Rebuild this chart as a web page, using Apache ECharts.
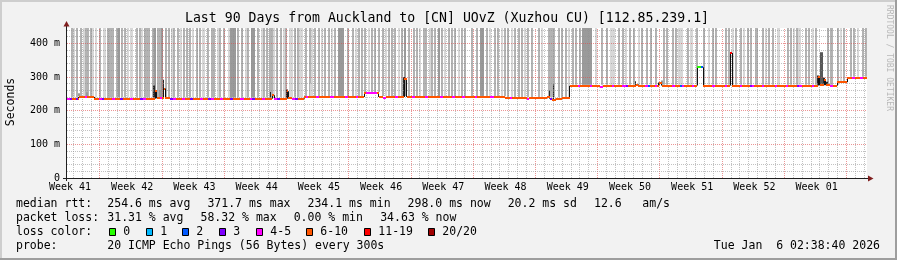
<!DOCTYPE html>
<html><head><meta charset="utf-8">
<script src="https://cdn.jsdelivr.net/npm/echarts@6/dist/echarts.min.js"></script>
<style>html,body{margin:0;padding:0;background:#f2f2f2}#c{width:897px;height:260px}</style>
</head><body><div id="c"></div><script>
// ---------- DATA (time axis in hours since graph start, 90 days = 2160 h; values in ms) ----------
const endHour = 2160;
const yMax = 446;
const yTicks = [0, 100, 200, 300, 400];
const gridMinorY = [20,40,60,80,120,140,160,180,220,240,260,280,320,340,360,380,420,440];
const gridMajorY = [100,200,300,400];
const weekLineHours = [89,257,425,593,761,929,1097,1265,1433,1601,1769,1937,2105];
const firstDayLine = 17;
const weekLabels = ['Week 41','Week 42','Week 43','Week 44','Week 45','Week 46','Week 47','Week 48','Week 49','Week 50','Week 51','Week 52','Week 01'];
const weekLabelHours = [8,176,344,512,680,848,1016,1184,1352,1520,1688,1856,2024];

// loss classes: 0,1,2,3,4-5,6-10,11-19,20/20
const lossLabels = ['0','1','2','3','4-5','6-10','11-19','20/20'];
const lossColors = ['#26ff00','#00b8ff','#0059ff','#7e00ff','#ff00ff','#ff5500','#ff0000','#a00000'];

// median rtt runs: [startHour, ms, lossClass]
const medianRuns = [
[0,235,4],[7,235,3],[13,235,5],[24,235,3],[30,235,5],[32,241,5],[49,241,4],[54,241,5],[73,236,5],[86,236,4],[95,236,3],[100,236,5],[122,236,4],[130,236,5],[143,236,3],[151,236,5],[170,236,4],[178,236,5],[197,236,3],[205,236,4],[213,236,5],[238,258,5],[242,237,5],[251,237,4],[256,237,5],[261,266,5],[265,238,5],[278,236,3],[286,236,4],[294,236,5],[311,236,4],[319,236,5],[332,236,3],[340,236,5],[359,236,4],[367,236,5],[381,236,3],[389,236,4],[397,236,5],[413,236,4],[421,236,5],[440,236,3],[448,236,5],[467,236,4],[478,236,5],[494,236,4],[500,236,3],[508,236,5],[527,236,4],[535,236,5],[554,246,5],[559,236,4],[567,236,3],[575,236,5],[594,258,5],[598,237,5],[608,236,4],[616,236,3],[624,236,5],
[640,241,5],[645,241,4],[651,241,5],[672,241,4],[680,241,5],[710,241,4],[721,241,5],[751,241,4],[759,241,5],[780,241,4],[786,241,5],[802,253,5],[807,253,4],[837,253,5],[842,241,5],[853,238,4],[861,241,5],[886,241,4],[894,241,5],[910,295,5],[917,241,5],[932,241,4],[940,241,5],[967,241,4],[975,241,5],[1007,241,4],[1015,241,5],[1040,241,4],[1048,241,5],[1067,241,4],[1075,241,5],[1102,241,4],[1107,241,5],[1142,241,4],[1153,241,5],
[1183,237,5],[1196,237,4],[1202,237,5],[1242,235,4],[1247,237,5],[1296,240,5],[1304,236,3],[1310,231,5],[1320,236,5],[1337,237,5],
[1358,274,5],[1380,274,4],[1386,274,5],[1412,274,4],[1418,274,5],[1439,270,4],[1447,274,5],[1471,274,4],[1477,274,5],[1499,274,4],[1509,274,3],[1515,274,5],[1536,278,5],[1542,274,5],[1561,274,4],[1569,274,2],[1574,274,5],[1588,274,4],[1593,274,5],[1598,281,5],[1606,275,5],[1634,275,4],[1642,275,5],[1655,275,2],[1661,275,4],[1666,275,5],[1688,275,4],[1693,275,5],[1701,329,0],[1713,329,2],[1718,275,5],[1742,275,4],[1750,275,5],[1777,275,4],[1782,275,5],[1791,371.7,6],[1796,275,5],[1817,275,4],[1822,275,5],[1844,275,3],[1849,275,4],[1855,275,5],[1877,275,4],[1882,275,5],[1912,275,4],[1917,275,5],[1941,275,4],[1947,275,5],[1971,275,3],[1976,275,4],[1985,275,5],[2012,275,4],[2017,275,5],[2028,300,5],[2032,276,5],[2044,290,5],[2048,276,5],[2060,275,4],[2068,275,5],[2079,285,5],[2106,298,5],[2119,298,4],[2128,298,5],[2141,298,4],[2150,298,5]
];

// smoke (ping spread): [fromHour, toHour, lowMs, highMs, densityLevel]
const smoke = [
[10,14,239,500,2],[17,20,239,500,1],[25,29,239,500,2],[35,39,244,500,2],[44,47,244,500,1],[49,52,244,500,2],[55,58,244,500,2],[61,64,244,500,2],[68,71,239,500,1],[75,82,239,500,1],[86,89,239,500,2],[97,106,239,500,1],[109,127,239,500,2],[131,134,239,500,2],[139,142,239,500,3],[147,150,239,500,2],[154,157,239,500,2],[161,164,239,500,1],[169,178,239,500,1],[185,188,239,500,2],[194,197,239,500,2],[201,204,239,500,1],[208,224,239,500,2],[229,232,239,500,2],[235,238,239,500,3],[242,245,239,500,2],[248,251,239,500,2],[255,258,239,500,3],[265,268,239,500,2],[273,276,239,500,2],[280,283,239,500,1],[287,290,239,500,2],[298,301,239,500,2],[305,308,239,500,1],[313,316,239,500,2],[321,324,239,500,2],[329,332,239,500,2],[338,341,239,500,1],[347,350,239,500,2],[356,359,239,500,2],[364,373,239,500,1],[379,382,239,500,2],[388,391,239,500,2],[395,398,239,500,2],[404,407,239,500,1],[411,414,239,500,2],[420,423,239,500,2],[435,438,239,500,1],[440,455,239,500,3],[460,463,239,500,2],[469,472,239,500,2],[480,483,239,500,1],[487,490,239,500,2],[496,507,239,500,3],[514,517,239,500,2],[523,526,239,500,1],[530,533,239,500,2],[537,540,239,500,2],[545,548,239,500,2],[551,554,239,500,2],[557,560,239,500,1],[564,567,239,500,2],[575,578,239,500,2],[582,585,239,500,1],[589,592,239,500,2],[600,609,239,500,1],[614,617,239,500,2],[620,623,239,500,2],[627,636,239,500,1],
[643,646,244,500,2],[653,656,244,500,2],[659,662,244,500,1],[668,671,244,500,2],[677,680,244,500,2],[686,689,244,500,1],[695,698,244,500,2],[704,707,244,500,2],[713,716,244,500,1],[722,725,244,500,2],[731,749,244,500,3],[755,758,244,500,2],[770,773,244,500,2],[777,780,244,500,1],[785,788,244,500,2],[794,797,244,500,2],[803,806,256,500,2],[812,815,256,500,1],[821,824,256,500,2],[830,833,256,500,2],[839,842,256,500,2],[851,854,244,500,2],[859,862,244,500,1],[866,869,244,500,2],[875,878,244,500,2],[884,887,244,500,2],[893,896,244,500,1],[902,905,244,500,2],[911,914,244,500,3],[920,923,244,500,2],[933,936,244,500,2],[942,945,244,500,2],[951,954,244,500,1],[960,963,244,500,2],[967,970,244,500,2],[977,980,244,500,1],[983,986,244,500,2],[992,995,244,500,2],[1001,1004,244,500,3],[1010,1013,244,500,2],[1019,1022,244,500,1],[1028,1031,244,500,2],[1037,1040,244,500,2],[1046,1049,244,500,2],[1055,1058,244,500,1],[1064,1067,244,500,2],[1073,1076,244,500,2],[1092,1095,244,500,2],[1105,1108,244,500,2],[1114,1126,244,500,3],[1132,1135,244,500,2],[1139,1146,244,500,1],[1153,1156,244,500,2],[1162,1165,244,500,2],[1171,1174,244,500,1],[1180,1183,244,500,2],
[1189,1192,240,500,2],[1198,1201,240,500,1],[1207,1210,240,500,2],[1218,1221,240,500,2],[1227,1230,240,500,2],[1234,1237,240,500,1],[1243,1246,240,500,2],[1254,1257,240,500,2],[1272,1275,240,500,2],[1279,1282,240,500,1],[1299,1318,240,500,2],[1326,1329,240,500,2],[1335,1338,240,500,2],[1344,1347,240,500,2],[1353,1356,240,500,1],
[1364,1367,277,500,2],[1372,1375,277,500,2],[1382,1385,277,500,2],[1391,1418,277,500,3],[1425,1428,277,500,1],[1443,1446,277,500,2],[1456,1459,277,500,2],[1465,1479,277,500,1],[1488,1491,277,500,2],[1499,1502,277,500,2],[1507,1510,277,500,1],[1517,1520,277,500,2],[1528,1531,277,500,2],[1542,1545,277,500,1],[1551,1554,277,500,2],[1564,1567,277,500,2],[1573,1576,277,500,2],[1587,1590,277,500,2],[1609,1612,277,500,2],[1618,1621,277,500,2],[1633,1636,277,500,2],[1642,1645,277,500,2],[1651,1664,277,500,1],[1673,1676,277,500,2],[1682,1691,277,500,1],[1698,1701,277,500,2],[1718,1721,277,500,2],[1732,1735,277,500,1],[1741,1744,277,500,2],[1750,1753,277,500,2],[1777,1780,277,500,2],[1786,1789,277,500,2],[1795,1798,277,500,1],[1804,1807,277,500,2],[1817,1820,277,500,2],[1826,1829,277,500,1],[1835,1838,277,500,2],[1844,1847,277,500,2],[1858,1867,277,500,2],[1876,1879,277,500,2],[1885,1888,277,500,1],[1894,1897,277,500,2],[1903,1906,277,500,2],[1916,1925,277,500,1],[1945,1948,277,500,2],[1952,1955,277,500,2],[1959,1962,277,500,1],[1968,1971,277,500,2],[1974,1983,277,500,1],[1993,1996,277,500,2],[2002,2005,277,500,2],[2011,2014,277,500,1],[2020,2023,277,500,2],[2051,2054,277,500,2],[2060,2069,277,500,2],[2078,2081,277,500,2],
[2087,2090,288,500,1],[2096,2099,288,500,2],[2114,2117,301,500,2],[2123,2126,301,500,2],[2132,2135,301,500,1],[2146,2149,301,500,2],[2155,2158,301,500,2],
[656,664,244,281,1],[248,252,239,262,3],[30,34,243,252,3],[52,55,243,255,3],[440,444,239,250,3],[233,237,239,275,4],[258,262,239,292,4],[548,552,239,256,4],[592,596,239,263,4],[908,912,244,300,4],[1302,1305,240,260,4],[1312,1316,235,278,4],[1533,1537,277,288,4],[1596,1600,277,284,4],[1604,1607,277,290,3],[2033,2042,277,374,5],[2026,2030,277,305,4],[2042,2046,277,298,4],[2050,2054,277,286,4]
];

// legend texts
const titleText = 'Last 90 Days from Auckland to [CN] UOvZ (Xuzhou CU) [112.85.239.1]';
const medianStats = ['254.6 ms avg','371.7 ms max','234.1 ms min','298.0 ms now','20.2 ms sd','12.6','am/s'];
const lossStats = ['31.31 % avg','58.32 % max','0.00 % min','34.63 % now'];
const probeText = '20 ICMP Echo Pings (56 Bytes) every 300s';
const dateText = 'Tue Jan  6 02:38:40 2026';

// ---------- RENDER ----------
const shadeColors = {1:'#d7d7d7', 2:'#b3b3b3', 3:'#9a9a9a', 4:'#2a2a2a', 5:'#585858'};
const MONO = '"DejaVu Sans Mono", monospace';
const dayLineHours = [];
for (let h = firstDayLine; h < endHour; h += 24) if (weekLineHours.indexOf(h) < 0) dayLineHours.push(h);

const medianTable = medianRuns.map((r, i) => {
  const n = medianRuns[i + 1];
  return [r[0], r[1], r[2], n ? n[0] : endHour, n ? n[1] : r[1]];
});

const chart = echarts.init(document.getElementById('c'), null, {renderer: 'canvas', width: 897, height: 260});

function crisp(v) { return Math.round(v - 0.5) + 0.5; }

const option = {
  backgroundColor: '#f2f2f2',
  animation: false,
  grid: {left: 67, top: 28, width: 800, height: 150, show: true, backgroundColor: '#ffffff', borderWidth: 0},
  xAxis: {type: 'value', min: 0, max: endHour, show: false},
  yAxis: {type: 'value', min: 0, max: yMax, interval: 100,
    axisLine: {show: false}, axisTick: {show: false}, splitLine: {show: false},
    axisLabel: {margin: 7, showMaxLabel: false, fontFamily: MONO, fontSize: 10, color: '#000',
      formatter: v => (yTicks.indexOf(v) < 0 ? '' : (v === 0 ? '0' : v + ' m'))}},
  series: [
    { type: 'custom', clip: true, z: 1, data: smoke, encode: {x: [0, 1], y: [2, 3]},
      renderItem: function (p, api) {
        const a = api.coord([api.value(0), api.value(3)]);
        const b = api.coord([api.value(1), api.value(2)]);
        const lvl = api.value(4);
        const x0 = Math.round(a[0]);
        const x1 = Math.max(x0 + (lvl >= 4 ? 1 : 2), Math.round(b[0]));
        return {type: 'rect', shape: {x: x0, y: a[1], width: x1 - x0, height: b[1] - a[1]},
          style: {fill: shadeColors[lvl]}};
      }},
    { type: 'custom', clip: true, z: 2, data: dayLineHours.map(h => [h, 0, 0]).concat(weekLineHours.map(h => [h, 0, 1])),
      encode: {x: 0, y: 1},
      renderItem: function (p, api) {
        const a = api.coord([api.value(0), 0]);
        const b = api.coord([api.value(0), yMax]);
        const x = crisp(a[0]);
        const major = api.value(2) === 1;
        return {type: 'line', shape: {x1: x, y1: a[1], x2: x, y2: b[1]},
          style: {stroke: major ? 'rgba(222,79,79,0.6)' : 'rgba(143,143,143,0.55)', lineWidth: 1, lineDash: [1, 1]}};
      }},
    { type: 'custom', clip: true, z: 2, data: gridMinorY.map(v => [0, v, 0]).concat(gridMajorY.map(v => [0, v, 1])),
      encode: {x: 0, y: 1},
      renderItem: function (p, api) {
        const a = api.coord([0, api.value(1)]);
        const b = api.coord([endHour, api.value(1)]);
        const y = crisp(a[1]);
        const major = api.value(2) === 1;
        return {type: 'line', shape: {x1: a[0], y1: y, x2: b[0], y2: y},
          style: {stroke: major ? 'rgba(222,79,79,0.6)' : 'rgba(143,143,143,0.55)', lineWidth: 1, lineDash: [1, 1]}};
      }},
    { type: 'custom', clip: true, z: 3, data: medianTable, encode: {x: [0, 3], y: 1},
      renderItem: function (p, api) {
        const a = api.coord([api.value(3), api.value(1)]);
        const b = api.coord([api.value(3), api.value(4)]);
        if (Math.abs(a[1] - b[1]) < 1) return null;
        const x = crisp(a[0]);
        return {type: 'line', shape: {x1: x, y1: a[1], x2: x, y2: b[1]}, style: {stroke: '#111', lineWidth: 1}};
      }},
    { type: 'custom', clip: true, z: 4, data: medianTable, encode: {x: [0, 3], y: 1},
      renderItem: function (p, api) {
        const a = api.coord([api.value(0), api.value(1)]);
        const b = api.coord([api.value(3), api.value(1)]);
        const y = Math.round(a[1]);
        return {type: 'rect', shape: {x: Math.round(a[0]), y: y - 1, width: Math.max(1, Math.round(b[0]) - Math.round(a[0])), height: 2},
          style: {fill: lossColors[api.value(2)]}};
      }},
    { type: 'custom', clip: false, z: 5, data: weekLabelHours.map((h, i) => [h, 0, i]), encode: {x: 0, y: 1},
      renderItem: function (p, api) {
        const a = api.coord([api.value(0), 0]);
        return {type: 'text', x: a[0], y: a[1] + 9.5,
          style: {text: weekLabels[api.value(2)], fill: '#000', font: '10px ' + MONO, align: 'center', verticalAlign: 'middle'}};
      }}
  ],
  graphic: []
};

const G = option.graphic;
function txt(x, y, s, extra) {
  G.push(Object.assign({type: 'text', x: x, y: y, z: 10,
    style: Object.assign({text: s, fill: '#000', font: '11.5px ' + MONO, align: 'left', verticalAlign: 'middle'}, extra || {})}));
}
// borders
G.push({type: 'rect', shape: {x: 0, y: 0, width: 897, height: 2}, style: {fill: '#cecece'}, z: 10});
G.push({type: 'rect', shape: {x: 0, y: 0, width: 2, height: 260}, style: {fill: '#cecece'}, z: 10});
G.push({type: 'rect', shape: {x: 0, y: 258, width: 897, height: 2}, style: {fill: '#9e9e9e'}, z: 10});
G.push({type: 'rect', shape: {x: 895, y: 0, width: 2, height: 260}, style: {fill: '#9e9e9e'}, z: 10});
// axes + arrows
G.push({type: 'line', shape: {x1: 66.5, y1: 25, x2: 66.5, y2: 181}, style: {stroke: '#1f1f1f', lineWidth: 1}, z: 9});
G.push({type: 'line', shape: {x1: 63, y1: 178.5, x2: 869, y2: 178.5}, style: {stroke: '#1f1f1f', lineWidth: 1}, z: 9});
G.push({type: 'polygon', shape: {points: [[63.5, 26.5], [69.5, 26.5], [66.5, 21]]}, style: {fill: '#801f1f'}, z: 9});
G.push({type: 'polygon', shape: {points: [[868, 175.5], [868, 181.5], [873.5, 178.5]]}, style: {fill: '#801f1f'}, z: 9});
// title, axis name, watermark
txt(447, 19, titleText, {font: '13.2px ' + MONO, align: 'center'});
G.push({type: 'text', x: 11, y: 102, rotation: Math.PI / 2, z: 10,
  style: {text: 'Seconds', fill: '#000', font: '11.5px ' + MONO, align: 'center', verticalAlign: 'middle'}});
G.push({type: 'text', x: 889.5, y: 5, rotation: -Math.PI / 2, z: 10,
  style: {text: 'RRDTOOL / TOBI OETIKER', fill: '#b8b8b8', font: '8px ' + MONO, align: 'left', verticalAlign: 'middle'}});
// legend rows
const rowY = [204.3, 218.3, 232.3, 246.2];
txt(16, rowY[0], 'median rtt:');
[107.3, 207.4, 307.5, 407.6, 507.7, 594, 642.3].forEach((x, i) => txt(x, rowY[0], medianStats[i]));
txt(16, rowY[1], 'packet loss:');
[107.3, 200.5, 293.7, 380.2].forEach((x, i) => txt(x, rowY[1], lossStats[i]));
txt(16, rowY[2], 'loss color:');
const boxX = [109, 145.7, 182.4, 219.1, 255.8, 306, 363.5, 428];
boxX.forEach((x, i) => {
  G.push({type: 'rect', shape: {x: Math.round(x) + 0.5, y: 228.5, width: 6, height: 7}, style: {fill: lossColors[i], stroke: '#000', lineWidth: 1}, z: 10});
  txt(Math.round(x) + 14.3, rowY[2], lossLabels[i]);
});
txt(16, rowY[3], 'probe:');
txt(107.3, rowY[3], probeText);
txt(880, rowY[3], dateText, {align: 'right'});

chart.setOption(option);
</script></body></html>
